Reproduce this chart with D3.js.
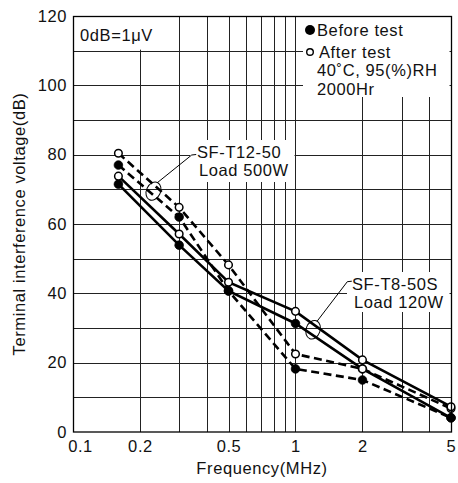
<!DOCTYPE html>
<html>
<head>
<meta charset="utf-8">
<script src="https://cdn.jsdelivr.net/npm/d3@7"></script>
<style>
  body { margin: 0; background: #fff; }
  svg text { font-family: "Liberation Sans", Arial, sans-serif; font-size: 16.5px; fill: #111; letter-spacing: 0.6px; }
</style>
</head>
<body>
<div id="chart"></div>
<script>
// Data
const frequencies = [0.16, 0.3, 0.5, 1, 2, 5]
const t12Before = [77, 62, 40.7, 18.2, 15, 4.1]
const t12After = [80.4, 64.8, 48.2, 22.5, 18.2, 6.8]
const t8Before = [71.5, 53.9, 40.7, 31.3, 18.2, 4.1]
const t8After = [73.8, 57.1, 43.2, 34.8, 20.8, 7.3]

const xTicks = [0.1, 0.2, 0.5, 1, 2, 5]
const xGrid = [0.2, 0.3, 0.4, 0.5, 0.6, 0.7, 0.8, 0.9, 1, 2, 3, 4]
const yTicks = [0, 20, 40, 60, 80, 100, 120]
const yGrid = [10, 20, 30, 40, 50, 60, 70, 80, 90, 100, 110]
const legendLines = ['Before test', 'After test', '40\u02DAC, 95(%)RH', '2000Hr']

function draw() {
  // Dimensions
  let dimensions = {
    width: 458,
    height: 483,
    margins: { top: 16, right: 7, bottom: 51, left: 73 }
  }
  dimensions.ctrWidth = dimensions.width - dimensions.margins.left - dimensions.margins.right
  dimensions.ctrHeight = dimensions.height - dimensions.margins.top - dimensions.margins.bottom

  const svg = d3.select('#chart')
    .append('svg')
    .attr('width', dimensions.width)
    .attr('height', dimensions.height)

  const ctr = svg.append('g')
    .attr('transform', `translate(${dimensions.margins.left}, ${dimensions.margins.top})`)

  // Scales
  const xScale = d3.scaleLog()
    .domain([0.1, 5])
    .range([0, dimensions.ctrWidth])
  const yScale = d3.scaleLinear()
    .domain([0, 120])
    .range([dimensions.ctrHeight, 0])

  const crisp = v => Math.round(v) + 0.5

  // Grid
  const grid = ctr.append('g').attr('stroke', '#222').attr('stroke-width', 1)
  grid.selectAll('.h')
    .data(yGrid)
    .join('line')
    .attr('x1', 0).attr('x2', dimensions.ctrWidth)
    .attr('y1', d => crisp(yScale(d))).attr('y2', d => crisp(yScale(d)))
  grid.selectAll('.v')
    .data(xGrid)
    .join('line')
    .attr('y1', 0).attr('y2', dimensions.ctrHeight)
    .attr('x1', d => crisp(xScale(d))).attr('x2', d => crisp(xScale(d)))

  // white patches behind the notes [x0, y0, x1, y1] in plot pixels
  const patches = [
    [0.5, 0.5, 88, yScale(110) - 1],                          // 0dB=1uV
    [230, 0.5, dimensions.ctrWidth - 1.5, 81],                // legend
    [117, 124, xScale(0.99), 166],                            // SF-T12-50
    [274, 256, dimensions.ctrWidth - 1.5, 296]                // SF-T8-50S
  ]
  ctr.append('g').selectAll('rect')
    .data(patches)
    .join('rect')
    .attr('x', d => d[0]).attr('y', d => d[1])
    .attr('width', d => d[2] - d[0]).attr('height', d => d[3] - d[1])
    .attr('fill', '#fff')

  // Series
  const series = [
    { values: t12Before, dashed: true, open: false },
    { values: t12After, dashed: true, open: true },
    { values: t8Before, dashed: false, open: false },
    { values: t8After, dashed: false, open: true }
  ]
  const line = d3.line()
    .x(d => xScale(d[0]))
    .y(d => yScale(d[1]))

  ctr.append('g').selectAll('path')
    .data(series)
    .join('path')
    .attr('d', s => line(frequencies.map((f, i) => [f, s.values[i]])))
    .attr('fill', 'none')
    .attr('stroke', '#000')
    .attr('stroke-width', 2.6)
    .attr('stroke-dasharray', s => s.dashed ? '8,4.5' : null)

  // filled markers first, open ones on top
  const markers = ctr.append('g')
  ;[...series].sort((a, b) => a.open - b.open).forEach(s => {
    markers.append('g').selectAll('circle')
      .data(frequencies.map((f, i) => [f, s.values[i]]))
      .join('circle')
      .attr('cx', d => xScale(d[0]))
      .attr('cy', d => yScale(d[1]))
      .attr('r', s.open ? 3.8 : 4.3)
      .attr('fill', s.open ? '#fff' : '#000')
      .attr('stroke', '#000')
      .attr('stroke-width', s.open ? 1.5 : 0.8)
  })

  // Frame
  ctr.append('rect')
    .attr('x', 0.5).attr('y', 0.5)
    .attr('width', dimensions.ctrWidth).attr('height', dimensions.ctrHeight - 0.5)
    .attr('fill', 'none')
    .attr('stroke', '#000')
    .attr('stroke-width', 1.3)

  // Axes (labels only)
  const xAxis = d3.axisBottom(xScale)
    .tickValues(xTicks)
    .tickFormat(d => String(d))
    .tickSize(0)
    .tickPadding(8)
  const xAxisGroup = ctr.append('g')
    .attr('transform', `translate(0, ${dimensions.ctrHeight})`)
    .call(xAxis)
  xAxisGroup.select('.domain').remove()
  xAxisGroup.selectAll('text').filter(d => d === 0.1).attr('dx', 7)

  const yAxis = d3.axisLeft(yScale)
    .tickValues(yTicks)
    .tickSize(0)
    .tickPadding(6)
  const yAxisGroup = ctr.append('g').call(yAxis)
  yAxisGroup.select('.domain').remove()

  svg.selectAll('.tick text').attr('fill', '#111')
  xAxisGroup.attr('font-family', null).attr('font-size', null)
  yAxisGroup.attr('font-family', null).attr('font-size', null)

  // Axis titles
  svg.append('text')
    .attr('x', dimensions.margins.left + dimensions.ctrWidth / 2)
    .attr('y', 474)
    .attr('text-anchor', 'middle')
    .text('Frequency(MHz)')
  svg.append('text')
    .attr('transform', `translate(25, ${dimensions.margins.top + dimensions.ctrHeight / 2}) rotate(-90)`)
    .attr('text-anchor', 'middle')
    .text('Terminal interference voltage(dB)')

  // Notes
  ctr.append('text')
    .attr('x', 7).attr('y', 24.5)
    .text('0dB=1\u03BCV')

  const legend = ctr.append('g')
    .attr('transform', 'translate(244, 0)')
  legend.selectAll('text')
    .data(legendLines)
    .join('text')
    .attr('x', (d, i) => i === 1 ? 2 : 0)
    .attr('y', (d, i) => [20, 41.5, 60, 79][i])
    .text(d => d)
  legend.append('circle')
    .attr('cx', -7).attr('cy', 14).attr('r', 5).attr('fill', '#000')
  legend.append('circle')
    .attr('cx', -7).attr('cy', 36).attr('r', 3.3)
    .attr('fill', '#fff').attr('stroke', '#000').attr('stroke-width', 1.4)

  // Callouts: ellipse around the pair of curves, leader line, two-line label
  const callouts = [
    { f: 0.23, v: 69.5, rot: 25, lx: 118.7, ly: 139, lines: ['SF-T12-50', 'Load 500W'], tx: 124, ty: 142 },
    { f: 1.2, v: 29.5, rot: 20, lx: 274.3, ly: 265.7, lines: ['SF-T8-50S', 'Load 120W'], tx: 279, ty: 274 }
  ]
  callouts.forEach(c => {
    const cx = xScale(c.f)
    const cy = yScale(c.v)
    const g = ctr.append('g')
    g.append('ellipse')
      .attr('transform', `translate(${cx}, ${cy}) rotate(${c.rot})`)
      .attr('rx', 7).attr('ry', 9.5)
      .attr('fill', 'none').attr('stroke', '#000').attr('stroke-width', 1)
    g.append('polyline')
      .attr('points', `${cx + 4},${cy - 8.5} ${c.lx},${c.ly} ${c.lx + 4.5},${c.ly - 0.5}`)
      .attr('fill', 'none').attr('stroke', '#000').attr('stroke-width', 1)
    g.selectAll('text')
      .data(c.lines)
      .join('text')
      .attr('x', (d, i) => c.tx + (i === 1 ? 2 : 0))
      .attr('y', (d, i) => c.ty + i * 17.5)
      .text(d => d)
  })
}

draw()
</script>
</body>
</html>
